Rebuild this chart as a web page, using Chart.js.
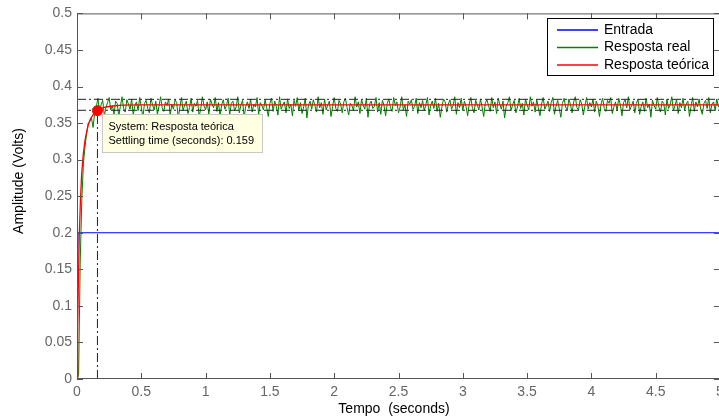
<!DOCTYPE html>
<html lang="pt">
<head>
  <meta charset="UTF-8" />
  <title>Resposta ao degrau</title>
  <script src="https://cdn.jsdelivr.net/npm/chart.js"></script>
  <style>
    html, body { margin: 0; padding: 0; background: #fff; overflow: hidden; }
    #wrap { width: 740px; height: 419px; }
  </style>
</head>
<body>
  <div id="wrap"><canvas id="step" width="740" height="419"></canvas></div>

  <script>
    // axis ticks
    const xTicks = [0, 0.5, 1, 1.5, 2, 2.5, 3, 3.5, 4, 4.5, 5];
    const yTicks = [0, 0.05, 0.1, 0.15, 0.2, 0.25, 0.3, 0.35, 0.4, 0.45, 0.5];

    // series names / colours
    const seriesNames = ["Entrada", "Resposta real", "Resposta teórica"];
    const seriesColors = ["#0000ff", "#008000", "#ff0000"];

    // Entrada (step input)
    const entradaT = [0, 0.008, 5];
    const entradaV = [0, 0.2, 0.2];

    // Resposta teórica
    const teoricaT = [0, 0.005, 0.01, 0.018, 0.027, 0.036, 0.048, 0.062, 0.075, 0.088, 0.105, 0.127, 0.159, 0.2, 0.26, 0.35, 0.5, 5];
    const teoricaV = [0, 0.07, 0.125, 0.199, 0.245, 0.28, 0.306, 0.326, 0.338, 0.348, 0.356, 0.362, 0.367, 0.371, 0.373, 0.3745, 0.375, 0.375];

    // Resposta real: one sample every 12.5 ms, in millivolts
    const realStep = 0.0125;
    const realMv = [
      0, 5, 160, 245, 295, 318, 336, 350, 352, 357, 344, 365,
      372, 384, 366, 375, 381, 360, 371, 378, 385, 368, 374, 362, 380, 377, 359, 373, 386, 370, 365, 382,
      376, 369, 383, 361, 374, 379, 367, 385, 372, 358, 377, 381, 370, 364, 384, 375, 368, 380, 362, 373,
      386, 371, 366, 379, 374, 383, 360, 376, 369, 382, 378, 357, 372, 385, 367, 375, 380, 363, 371, 384,
      365, 377, 373, 381, 359, 370, 386, 374, 368, 379, 362, 383, 376, 371, 385, 366, 378, 360, 375, 382,
      369, 374, 384, 361, 377, 380, 367, 372, 386, 364, 375, 381, 358, 373, 379, 370, 383, 365, 376, 372,
      385, 362, 378, 374, 368, 382, 371, 359, 377, 384, 366, 380, 373, 361, 386, 369, 375, 379, 364, 383,
      370, 376, 360, 381, 373, 385, 367, 378, 363, 372, 384, 357, 375, 380, 369, 382, 374, 365, 386, 371,
      378, 362, 383, 368, 375, 380, 359, 373, 385, 370, 366, 381, 376, 364, 379, 384, 371, 361, 377, 374,
      367, 386, 372, 379, 363, 382, 375, 369, 384, 358, 376, 380, 370, 373, 385, 365, 378, 362, 381, 374,
      360, 377, 383, 371, 366, 385, 374, 379, 364, 372, 386, 368, 375, 359, 380, 376, 382, 369, 373, 384,
      363, 378, 371, 381, 367, 375, 385, 361, 374, 380, 370, 384, 366, 377, 358, 372, 383, 379, 365, 376,
      382, 369, 374, 386, 362, 378, 371, 384, 367, 380, 373, 360, 376, 385, 370, 364, 381, 375, 368, 383,
      372, 359, 377, 382, 374, 366, 385, 371, 379, 363, 384, 376, 369, 380, 357, 373, 378, 386, 367, 375,
      381, 364, 372, 384, 370, 377, 361, 383, 375, 368, 386, 373, 379, 365, 382, 371, 360, 376, 385, 369,
      374, 380, 366, 378, 385, 362, 373, 381, 370, 358, 377, 384, 372, 367, 383, 375, 364, 379, 386, 371,
      368, 382, 376, 361, 374, 385, 369, 378, 372, 383, 365, 380, 374, 359, 376, 384, 370, 366, 381, 377,
      385, 363, 372, 379, 367, 384, 375, 360, 378, 382, 371, 386, 368, 374, 380, 364, 377, 383, 362, 373,
      379, 366, 384, 371, 376, 358, 381, 374, 369, 385, 372, 365, 380, 377, 361, 383, 370, 375, 386, 367,
      374, 382, 363, 378, 371, 384, 368, 376, 380, 359, 373, 385, 366, 379, 372, 383, 369, 362, 377, 381,
      370, 385, 364, 376, 379, 367, 383, 372, 374
    ];

    // settling time marker (2% band around the final value)
    const settleTime = 0.159;
    const settleValue = 0.367;
    const bandLow = 0.3675;
    const bandHigh = 0.3825;
    const tEnd = 5;

    const toPoints = (ts, vs) => ts.map((t, i) => ({ x: t, y: vs[i] }));
    const realPoints = realMv.map((mv, i) => ({ x: i * realStep, y: mv / 1000 }));

    const FONT = "'Liberation Sans', Arial, Helvetica, sans-serif";
    Chart.defaults.font.family = FONT;

    const dashDot = [9, 3, 2, 3];

    const matlabFrame = {
      id: "matlabFrame",
      afterDraw(chart) {
        const { ctx, chartArea: a, scales } = chart;
        const sx = scales.x, sy = scales.y;
        ctx.save();

        // box + inward ticks
        ctx.strokeStyle = "#555";
        ctx.lineWidth = 1;
        ctx.strokeRect(a.left + 0.5, a.top + 0.5, a.right - a.left - 1, a.bottom - a.top - 1);
        ctx.beginPath();
        xTicks.forEach(v => {
          const px = Math.round(sx.getPixelForValue(v)) + 0.5;
          ctx.moveTo(px, a.bottom); ctx.lineTo(px, a.bottom - 6);
          ctx.moveTo(px, a.top); ctx.lineTo(px, a.top + 6);
        });
        yTicks.forEach(v => {
          const py = Math.round(sy.getPixelForValue(v)) + 0.5;
          ctx.moveTo(a.left, py); ctx.lineTo(a.left + 6, py);
          ctx.moveTo(a.right, py); ctx.lineTo(a.right - 6, py);
        });
        ctx.stroke();

        // axis titles
        ctx.fillStyle = "#000";
        ctx.font = "14px " + FONT;
        ctx.textAlign = "center";
        ctx.textBaseline = "middle";
        ctx.fillText("Tempo  (seconds)", 394, 409);
        ctx.save();
        ctx.translate(19, 181);
        ctx.rotate(-Math.PI / 2);
        ctx.fillText("Amplitude (Volts)", 0, 0);
        ctx.restore();

        // data tip of the settling point
        const px = sx.getPixelForValue(settleTime);
        const py = sy.getPixelForValue(settleValue);
        const bx = Math.round(px + 5) + 0.5, by = Math.round(py + 3) + 0.5;
        ctx.fillStyle = "#ffffe1";
        ctx.fillRect(bx, by, 160, 38);
        ctx.strokeStyle = "#c8c8c8";
        ctx.strokeRect(bx, by, 160, 38);
        ctx.fillStyle = "#000";
        ctx.font = "11px " + FONT;
        ctx.textAlign = "left";
        ctx.fillText("System: Resposta teórica", bx + 6, by + 12);
        ctx.fillText("Settling time (seconds): 0.159", bx + 6, by + 26);

        // legend
        const lx = 547.5, ly = 18.5, lw = 166, lh = 57;
        ctx.fillStyle = "#fff";
        ctx.fillRect(lx, ly, lw, lh);
        ctx.strokeStyle = "#000";
        ctx.strokeRect(lx, ly, lw, lh);
        ctx.font = "14px " + FONT;
        seriesNames.forEach((name, i) => {
          const ry = 30 + i * 17.5;
          ctx.beginPath();
          ctx.strokeStyle = seriesColors[i];
          ctx.lineWidth = 1.3;
          ctx.moveTo(557, ry);
          ctx.lineTo(598, ry);
          ctx.stroke();
          ctx.fillStyle = "#000";
          ctx.fillText(name, 604, ry);
        });
        ctx.restore();
      }
    };

    const line = (label, data, color, order, extra) => Object.assign({
      label, data, borderColor: color, backgroundColor: color,
      borderWidth: 1, pointRadius: 0, showLine: true, fill: false, order
    }, extra || {});

    new Chart(document.getElementById("step"), {
      type: "scatter",
      data: {
        datasets: [
          line(seriesNames[0], toPoints(entradaT, entradaV), seriesColors[0], 5),
          line(seriesNames[1], realPoints, seriesColors[1], 4),
          line(seriesNames[2], toPoints(teoricaT, teoricaV), seriesColors[2], 3, { borderWidth: 1.3 }),
          line("band high", toPoints([0, tEnd], [bandHigh, bandHigh]), "#222", 2, { borderDash: dashDot }),
          line("band low", toPoints([0, tEnd], [bandLow, bandLow]), "#222", 2, { borderDash: dashDot }),
          line("settle", toPoints([settleTime, settleTime], [0, settleValue]), "#222", 2, { borderDash: dashDot }),
          {
            label: "settling point",
            data: toPoints([settleTime], [settleValue]),
            showLine: false,
            pointRadius: 5,
            pointBackgroundColor: "#ff0000",
            pointBorderColor: "#ff0000",
            order: 0
          }
        ]
      },
      options: {
        responsive: false,
        animation: false,
        layout: { padding: { top: 12, right: 20, left: 0, bottom: 0 } },
        plugins: { legend: { display: false }, tooltip: { enabled: false } },
        scales: {
          x: {
            type: "linear", min: 0, max: 5,
            grid: { display: false, drawTicks: false, tickLength: 0 }, border: { display: false },
            ticks: { color: "#666", font: { size: 14 }, padding: 5, maxRotation: 0, autoSkip: false, callback: v => String(v) },
            afterBuildTicks: s => { s.ticks = xTicks.map(v => ({ value: v })); },
            afterFit: s => { s.height = 40; }
          },
          y: {
            type: "linear", min: 0, max: 0.5,
            grid: { display: false, drawTicks: false, tickLength: 0 }, border: { display: false },
            ticks: { color: "#666", font: { size: 14 }, padding: 5, autoSkip: false, callback: v => String(v) },
            afterBuildTicks: s => { s.ticks = yTicks.map(v => ({ value: v })); },
            afterFit: s => { s.width = 77; }
          }
        }
      },
      plugins: [matlabFrame]
    });
  </script>
</body>
</html>
